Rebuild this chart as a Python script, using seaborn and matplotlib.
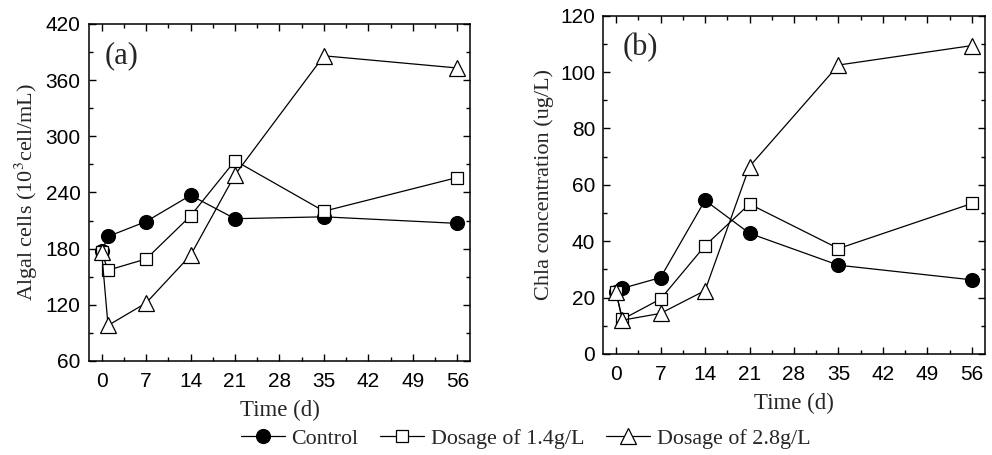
import matplotlib
matplotlib.use("Agg")
import matplotlib.pyplot as plt
import seaborn as sns
import pandas as pd
from matplotlib.ticker import MultipleLocator

days = [0, 1, 7, 14, 21, 35, 56]
series_names = ["Control", "Dosage of 1.4g/L", "Dosage of 2.8g/L"]

# Panel (a): algal cells (10^3 cell/mL)
cells_control = [177, 193, 209, 237, 212, 214, 207]
cells_14 = [176, 157, 169, 215, 274, 220, 256]
cells_28 = [176, 98, 122, 173, 259, 386, 373]

# Panel (b): Chla concentration (ug/L)
chla_control = [22, 23.3, 27.1, 54.5, 42.8, 31.5, 26.3]
chla_14 = [21.9, 12.3, 19.5, 38.4, 53.2, 37.4, 53.4]
chla_28 = [21.9, 12.0, 14.4, 22.5, 66.5, 102.5, 109.4]

x_ticks = [0, 7, 14, 21, 28, 35, 42, 49, 56]

sns.set_theme(style="ticks")
plt.rcParams["font.family"] = ["Liberation Sans", "DejaVu Sans"]
plt.rcParams["mathtext.fontset"] = "stix"

fig = plt.figure(figsize=(9.92, 4.55), dpi=100)
axA = fig.add_axes([0.0897, 0.2066, 0.3841, 0.7407])
axB = fig.add_axes([0.6082, 0.2220, 0.3844, 0.7435])

styles = [
    dict(marker="o", markersize=10, markerfacecolor="black", markeredgecolor="black"),
    dict(marker="s", markersize=8.5, markerfacecolor="white", markeredgecolor="black"),
    dict(marker="^", markersize=11, markerfacecolor="white", markeredgecolor="black"),
]

def draw(ax, values_list):
    for name, vals, st in zip(series_names, values_list, styles):
        df = pd.DataFrame({"day": days, "value": vals})
        sns.lineplot(data=df, x="day", y="value", ax=ax, color="black",
                     linewidth=0.9, label=name, markeredgewidth=0.9, **st)
    ax.set_xlim(-2, 58)
    ax.set_xticks(x_ticks)
    ax.xaxis.set_minor_locator(MultipleLocator(3.5))
    ax.tick_params(which="both", direction="in", top=True, right=True,
                   labelsize=15, colors="black", width=1.0)
    ax.tick_params(which="major", length=5)
    ax.tick_params(which="minor", length=3)
    ax.tick_params(axis="x", which="major", pad=8)
    ax.tick_params(axis="y", which="major", pad=6)
    for sp in ax.spines.values():
        sp.set_color("black")
        sp.set_linewidth(1.1)
    ax.set_xlabel("Time (d)", family="Liberation Serif", fontsize=16.5, labelpad=6)
    if ax.get_legend() is not None:
        ax.get_legend().remove()

draw(axA, [cells_control, cells_14, cells_28])
axA.set_ylim(60, 420)
axA.set_yticks([60, 120, 180, 240, 300, 360, 420])
axA.yaxis.set_minor_locator(MultipleLocator(30))
axA.set_ylabel("Algal cells (10$^{3}$cell/mL)", family="Liberation Serif", fontsize=16, labelpad=4)
axA.text(0.04, 0.95, "(a)", transform=axA.transAxes, family="Liberation Serif",
         fontsize=22, va="top", ha="left")

draw(axB, [chla_control, chla_14, chla_28])
axB.set_ylim(0, 120)
axB.set_yticks([0, 20, 40, 60, 80, 100, 120])
axB.yaxis.set_minor_locator(MultipleLocator(10))
axB.set_ylabel("Chla concentration (ug/L)", family="Liberation Serif", fontsize=16, labelpad=4)
axB.text(0.05, 0.95, "(b)", transform=axB.transAxes, family="Liberation Serif",
         fontsize=22, va="top", ha="left")

handles, labels = axA.get_legend_handles_labels()
fig.legend(handles, labels, loc="lower center", bbox_to_anchor=(0.53, -0.03), ncol=3,
           frameon=False, prop={"family": "Liberation Serif", "size": 15.8},
           handlelength=2.0, columnspacing=1.0, handletextpad=0.3)

fig.savefig("out.png", dpi=100)
